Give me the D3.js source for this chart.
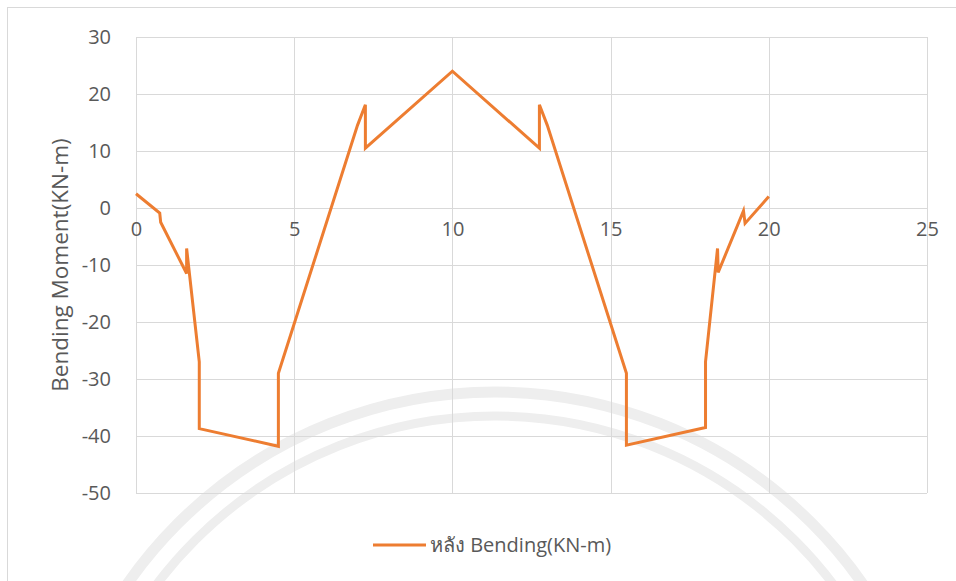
<!DOCTYPE html>
<html>
<head>
<meta charset="utf-8">
<script src="https://cdn.jsdelivr.net/npm/d3@7"></script>
<style>
  body { margin: 0; background: #fff; }
  svg { display: block; font-family: "Open Sans", "Noto Sans", sans-serif; }
</style>
</head>
<body>
<svg id="chart"></svg>
<script>
// beam position (m) and bending moment (KN-m)
const positions = [0, 0.75, 0.78, 1.6, 1.6, 2.0, 2.0, 4.5, 4.5, 7.0, 7.25, 7.25, 10,
                   12.75, 12.75, 13.0, 15.5, 15.5, 18.0, 18.0, 18.38, 18.4, 19.2, 19.25, 20];
const moments = [2.5, -0.9, -2.5, -11.5, -7.1, -27.0, -38.7, -41.8, -29.0, 14.5, 18.1, 10.5, 24.0,
                 10.5, 18.1, 14.5, -29.0, -41.6, -38.5, -27.0, -7.1, -11.3, -0.5, -2.7, 2.0];
const xTicks = [0, 5, 10, 15, 20, 25];
const yTicks = [30, 20, 10, 0, -10, -20, -30, -40, -50];
const seriesName = 'หลัง Bending(KN-m)';
const yTitle = 'Bending Moment(KN-m)';

const width = 956, height = 581;
const margin = {top: 37, right: 29, bottom: 88, left: 136};
const innerW = width - margin.left - margin.right;
const innerH = height - margin.top - margin.bottom;

const svg = d3.select('#chart').attr('width', width).attr('height', height);

// chart frame
svg.append('rect')
    .attr('x', 7.5).attr('y', 7.5)
    .attr('width', width + 20).attr('height', height + 20)
    .attr('fill', '#fff').attr('stroke', '#d9d9d9');

// faint watermark arcs in the background
const wm = svg.append('g').attr('fill', 'none').attr('stroke', '#eeeeee');
wm.append('circle').attr('cx', 495).attr('cy', 840).attr('r', 448).attr('stroke-width', 11);
wm.append('circle').attr('cx', 495).attr('cy', 840).attr('r', 424).attr('stroke-width', 9);

const chart = svg.append('g')
    .attr('transform', `translate(${margin.left}, ${margin.top})`);

const xscale = d3.scaleLinear().domain([0, 25]).range([0, innerW]);
const yscale = d3.scaleLinear().domain([-50, 30]).range([innerH, 0]);

// grid
chart.append('g')
    .selectAll('line')
    .data(yTicks)
    .join('line')
    .attr('x1', 0).attr('x2', innerW)
    .attr('y1', d => Math.round(yscale(d)) + 0.5)
    .attr('y2', d => Math.round(yscale(d)) + 0.5)
    .attr('stroke', '#d9d9d9');

chart.append('g')
    .selectAll('line')
    .data(xTicks)
    .join('line')
    .attr('x1', d => Math.round(xscale(d)) + 0.5)
    .attr('x2', d => Math.round(xscale(d)) + 0.5)
    .attr('y1', 0).attr('y2', innerH)
    .attr('stroke', '#d9d9d9');

// y axis labels (plain hyphen for negatives, like the original)
const yaxis = d3.axisLeft(yscale).tickValues(yTicks).tickFormat(d => String(d))
    .tickSize(0).tickPadding(25);
const yaxis_group = chart.append('g').call(yaxis);
yaxis_group.select('.domain').remove();
yaxis_group.selectAll('text')
    .style('font-size', '20px')
    .attr('fill', '#595959')
    .style('font-family', '"Open Sans", sans-serif');

// x axis labels sit below the zero line
const xaxis = d3.axisBottom(xscale).tickValues(xTicks).tickFormat(d => String(d))
    .tickSize(0).tickPadding(14);
const xaxis_group = chart.append('g')
    .attr('transform', `translate(0, ${yscale(0)})`)
    .call(xaxis);
xaxis_group.select('.domain').remove();
xaxis_group.selectAll('text')
    .style('font-size', '20px')
    .attr('fill', '#595959')
    .style('font-family', '"Open Sans", sans-serif');

// the series
const points = positions.map((p, i) => [p, moments[i]]);
const line = d3.line()
    .x(d => xscale(d[0]))
    .y(d => yscale(d[1]));

chart.append('path')
    .datum(points)
    .attr('d', line)
    .attr('fill', 'none')
    .attr('stroke', '#ed7d31')
    .attr('stroke-width', 3)
    .attr('stroke-linejoin', 'miter')
    .attr('stroke-miterlimit', 4);

// y title
svg.append('text')
    .attr('transform', `translate(68, ${margin.top + innerH / 2}) rotate(-90)`)
    .attr('text-anchor', 'middle')
    .style('font-size', '22.5px')
    .attr('fill', '#595959')
    .text(yTitle);

// legend
const legend = svg.append('g').attr('transform', 'translate(373, 545)');
legend.append('line')
    .attr('x1', 0).attr('x2', 53)
    .attr('y1', 0).attr('y2', 0)
    .attr('stroke', '#ed7d31').attr('stroke-width', 3);
legend.append('text')
    .attr('x', 57).attr('y', 7)
    .style('font-size', '20px')
    .attr('fill', '#595959')
    .text(seriesName);
</script>
</body>
</html>
